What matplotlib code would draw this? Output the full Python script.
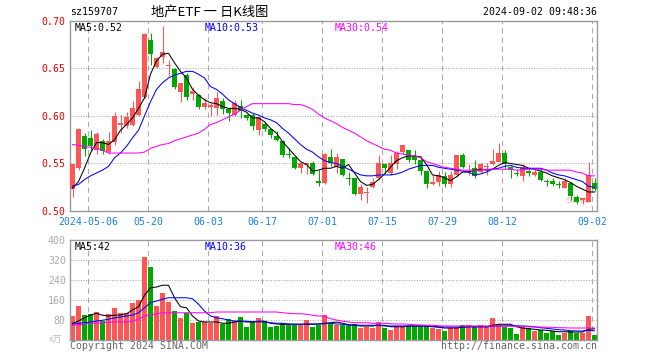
import numpy as np
import pandas as pd
import matplotlib
matplotlib.use("Agg")
import matplotlib.pyplot as plt

# trading days 2024-04-26 .. 2024-09-02 (holidays removed)
holidays = ["2024-05-01", "2024-05-02", "2024-05-03", "2024-06-10"]
days = [d for d in pd.bdate_range("2024-04-26", "2024-09-02") if d.strftime("%Y-%m-%d") not in holidays]
tick_days = ["2024-05-06", "2024-05-20", "2024-06-03", "2024-06-17", "2024-07-01",
             "2024-07-15", "2024-07-29", "2024-08-12", "2024-09-02"]
tick_labels = ["2024-05-06", "05-20", "06-03", "06-17", "07-01", "07-15", "07-29", "08-12", "09-02"]

opens = [.523, .545, .579, .577, .564, .574, .562, .573, .591, .590,
         .591, .601, .620, .680, .652, .662, .653, .650, .625, .643,
         .623, .622, .609, .610, .608, .616, .607, .601, .611, .601,
         .601, .585, .592, .586, .579, .574, .560, .557, .545, .548,
         .551, .532, .529, .557, .546, .555, .535, .535, .518, .519,
         .525, .535, .549, .540, .549, .562, .564, .558, .554, .542,
         .528, .531, .537, .528, .538, .559, .541, .545, .541, .546,
         .549, .552, .561, .546, .540, .537, .542, .538, .541, .531,
         .532, .528, .524, .530, .515, .512, .510, .529]
highs = [.549, .587, .582, .585, .583, .576, .583, .604, .601, .604,
         .616, .637, .687, .687, .662, .695, .659, .650, .635, .645,
         .631, .623, .619, .614, .625, .619, .608, .617, .617, .602,
         .603, .600, .594, .586, .584, .575, .566, .557, .552, .551,
         .553, .543, .561, .565, .561, .555, .541, .535, .528, .525,
         .535, .559, .551, .559, .563, .570, .564, .564, .558, .543,
         .538, .542, .541, .542, .559, .561, .549, .554, .551, .551,
         .565, .572, .564, .547, .544, .549, .544, .544, .544, .534,
         .535, .532, .535, .531, .517, .514, .552, .535]
lows = [.515, .543, .558, .563, .560, .560, .560, .570, .582, .587,
        .590, .600, .619, .654, .650, .656, .642, .628, .615, .617,
        .617, .607, .607, .600, .601, .602, .595, .600, .598, .596,
        .585, .580, .584, .577, .574, .557, .556, .544, .540, .539,
        .538, .526, .528, .547, .540, .537, .527, .517, .512, .508,
        .524, .533, .540, .538, .544, .560, .552, .549, .538, .524,
        .527, .526, .525, .525, .536, .545, .538, .535, .540, .538,
        .548, .552, .544, .535, .537, .532, .537, .537, .532, .526,
        .526, .524, .524, .512, .507, .507, .510, .521]
closes = [.549, .586, .565, .568, .581, .563, .574, .600, .593, .599,
          .608, .628, .686, .665, .661, .667, .654, .631, .635, .620,
          .626, .610, .614, .610, .619, .607, .603, .614, .605, .598,
          .589, .599, .586, .580, .575, .559, .559, .545, .551, .551,
          .539, .529, .560, .551, .557, .538, .534, .518, .525, .520,
          .531, .551, .545, .551, .561, .569, .554, .554, .542, .528,
          .531, .538, .528, .538, .559, .546, .541, .537, .550, .546,
          .553, .561, .549, .543, .539, .546, .540, .541, .533, .530,
          .528, .527, .532, .516, .510, .512, .538, .523]

ma5 = [.524, .531, .545, .561, .572, .572, .570, .575, .585, .591,
       .598, .608, .619, .644, .658, .665, .666, .656, .647, .640,
       .628, .622, .617, .614, .613, .610, .608, .608, .607, .604,
       .598, .598, .594, .587, .582, .573, .566, .559, .552, .549,
       .542, .543, .545, .545, .547, .545, .549, .540, .531, .527,
       .528, .533, .539, .546, .553, .556, .558, .558, .557, .549,
       .538, .537, .535, .532, .536, .541, .541, .543, .544, .543,
       .544, .548, .551, .550, .549, .548, .545, .544, .542, .540,
       .537, .535, .533, .530, .526, .523, .520, .520]
ma10 = [.526, .528, .533, .537, .540, .543, .547, .556, .561, .568,
        .577, .585, .600, .615, .628, .635, .640, .643, .645, .647,
        .647, .644, .640, .631, .628, .623, .617, .613, .609, .606,
        .603, .601, .598, .596, .593, .587, .582, .576, .570, .565,
        .562, .557, .553, .551, .550, .547, .544, .541, .538, .537,
        .537, .538, .538, .538, .539, .541, .544, .546, .548, .548,
        .548, .546, .545, .544, .543, .542, .541, .538, .539, .541,
        .544, .545, .547, .548, .546, .545, .545, .545, .545, .543,
        .540, .538, .537, .535, .533, .531, .526, .525]
ma30 = [.570, .569, .568, .567, .566, .564, .561, .561, .561, .561,
        .561, .561, .562, .566, .568, .570, .571, .574, .576, .578,
        .580, .582, .586, .591, .593, .596, .599, .602, .606, .610,
        .613, .613, .613, .613, .613, .613, .613, .612, .612, .610,
        .607, .602, .598, .595, .592, .588, .585, .582, .578, .574,
        .571, .568, .565, .564, .561, .560, .559, .558, .556, .552,
        .550, .548, .546, .545, .544, .543, .543, .543, .543, .544,
        .544, .544, .544, .544, .543, .543, .544, .544, .544, .543,
        .543, .543, .543, .543, .541, .540, .537, .537]

volume = [96, 136, 100, 105, 112, 76, 103, 128, 107, 109,
          149, 160, 332, 293, 136, 189, 152, 116, 89, 109,
          69, 73, 73, 69, 96, 65, 83, 76, 92, 52,
          76, 88, 76, 52, 56, 67, 59, 59, 59, 79,
          53, 59, 99, 63, 59, 60, 60, 63, 49, 52,
          49, 72, 49, 40, 56, 56, 56, 56, 56, 56,
          49, 43, 36, 49, 49, 59, 59, 53, 59, 53,
          88, 63, 53, 47, 24, 51, 48, 35, 40, 28,
          36, 21, 29, 37, 29, 29, 96, 19]
vol_ma5 = [67, 76, 89, 99, 107, 99, 96, 99, 100, 105,
           120, 133, 179, 209, 212, 219, 219, 169, 133, 129,
           96, 76, 72, 72, 72, 67, 67, 72, 75, 72,
           72, 75, 75, 67, 64, 63, 63, 63, 63, 63,
           63, 64, 67, 69, 72, 67, 61, 59, 56, 56,
           56, 59, 59, 53, 53, 53, 56, 56, 56, 56,
           53, 51, 48, 48, 48, 51, 53, 53, 53, 53,
           59, 63, 63, 63, 53, 48, 45, 43, 40, 39,
           36, 33, 33, 32, 32, 32, 43, 45]
vol_ma10 = [63, 67, 69, 72, 76, 79, 83, 88, 92, 96,
            100, 109, 129, 149, 156, 163, 169, 169, 169, 169,
            165, 143, 116, 96, 89, 85, 80, 76, 76, 75,
            73, 73, 72, 69, 67, 67, 64, 63, 63, 64,
            64, 64, 65, 67, 64, 63, 61, 60, 59, 59,
            59, 59, 56, 56, 56, 56, 56, 56, 56, 56,
            55, 53, 52, 52, 52, 52, 53, 53, 53, 53,
            55, 56, 57, 57, 57, 56, 55, 53, 49, 47,
            44, 41, 40, 37, 36, 36, 39, 37]
vol_ma30 = [59, 61, 64, 67, 67, 69, 71, 72, 72, 73,
            76, 83, 96, 101, 105, 109, 109, 109, 109, 109,
            109, 109, 109, 109, 112, 112, 112, 112, 112, 112,
            112, 112, 112, 112, 112, 109, 107, 105, 105, 103,
            99, 96, 96, 85, 80, 75, 72, 69, 69, 69,
            67, 67, 67, 65, 64, 64, 63, 61, 60, 59,
            59, 57, 56, 56, 56, 56, 56, 56, 56, 56,
            56, 56, 56, 55, 55, 53, 53, 52, 52, 51,
            51, 49, 49, 48, 48, 48, 48, 48]

RED = '#ff5555'
GREEN = '#00a800'
GRID = '#aaaaaa'
FRAME = '#999999'
MONO = 'DejaVu Sans Mono'
FS = 7.1
LW = 0.75

o = np.array(opens); h = np.array(highs); l = np.array(lows); c = np.array(closes)
x = np.arange(len(days))
xc = x + 5 / 12
colors = [RED if cc >= oo else GREEN for oo, cc in zip(o, c)]

W, H = 660, 360
fig = plt.figure(figsize=(W / 100, H / 100), dpi=100, facecolor='white')


def px_axes(left, top, right, bottom):
    return fig.add_axes([left / W, 1 - bottom / H, (right - left) / W, (bottom - top) / H])


ax = px_axes(70, 21, 597, 211)
axv = px_axes(70, 240, 597, 340)

day_str = [d.strftime("%Y-%m-%d") for d in days]
tick_pos = [day_str.index(t) for t in tick_days]

for a in (ax, axv):
    a.set_xlim(0, 527 / 6)
    for s in a.spines.values():
        s.set_edgecolor(FRAME)
        s.set_linewidth(1)
    for p in tick_pos:
        a.axvline(p, color=GRID, lw=LW, ls=(0, (5, 4)), zorder=0)
    a.tick_params(length=0, pad=3)

# price panel
ax.set_ylim(0.50, 0.70)
for v in (0.55, 0.60, 0.65):
    ax.axhline(v, color=GRID, lw=LW, ls=(0, (1, 1.5)), zorder=0)
ax.vlines(xc, l, h, colors=colors, lw=LW, zorder=2)
ax.bar(xc, np.maximum(np.abs(c - o), 0.0012), bottom=np.minimum(o, c), width=5 / 6,
       color=colors, lw=0, zorder=3)
ax.plot(xc, ma5, color='black', lw=LW, zorder=4)
ax.plot(xc, ma10, color='#0000ff', lw=LW, zorder=4)
ax.plot(xc, ma30, color='#ff00ff', lw=LW, zorder=4)
ax.set_yticks([0.50, 0.55, 0.60, 0.65, 0.70])
ax.set_yticklabels(['0.50', '0.55', '0.60', '0.65', '0.70'], color='#ee0000',
                   fontfamily=MONO, fontsize=FS)
ax.set_xticks(tick_pos)
ax.set_xticklabels(tick_labels, color='#1a80e0', fontfamily=MONO, fontsize=FS)
ax.tick_params(axis='x', pad=4)

ax.text(5 / 527, 0.965, 'MA5:0.52', transform=ax.transAxes, color='black',
        fontfamily=MONO, fontsize=FS, va='center')
ax.text(135 / 527, 0.965, 'MA10:0.53', transform=ax.transAxes, color='#0000ff',
        fontfamily=MONO, fontsize=FS, va='center')
ax.text(265 / 527, 0.965, 'MA30:0.54', transform=ax.transAxes, color='#ff00ff',
        fontfamily=MONO, fontsize=FS, va='center')
ax.text(0.965, 0.06, 'sina', transform=ax.transAxes, color='#e8c4c4', alpha=0.8,
        fontsize=8, fontweight='bold', ha='center', va='center', zorder=1)

# volume panel
axv.set_ylim(0, 400)
for v in (80, 160, 240, 320):
    axv.axhline(v, color=GRID, lw=LW, ls=(0, (1, 1.5)), zorder=0)
axv.bar(xc, volume, width=5 / 6, color=colors, lw=0, zorder=2)
axv.plot(xc, vol_ma5, color='black', lw=LW, zorder=3)
axv.plot(xc, vol_ma10, color='#0000ff', lw=LW, zorder=3)
axv.plot(xc, vol_ma30, color='#ff00ff', lw=LW, zorder=3)
axv.set_yticks([80, 160, 240, 320, 400])
axv.set_yticklabels(['80', '160', '240', '320', '400'], color='#aaaaaa',
                    fontfamily=MONO, fontsize=FS)
axv.set_xticks([])
axv.text(5 / 527, 0.93, 'MA5:42', transform=axv.transAxes, color='black',
         fontfamily=MONO, fontsize=FS, va='center')
axv.text(135 / 527, 0.93, 'MA10:36', transform=axv.transAxes, color='#0000ff',
         fontfamily=MONO, fontsize=FS, va='center')
axv.text(265 / 527, 0.93, 'MA30:46', transform=axv.transAxes, color='#ff00ff',
         fontfamily=MONO, fontsize=FS, va='center')

# header and footer texts
fig.text(70 / W, 1 - 12 / H, 'sz159707', fontfamily=MONO, fontsize=FS, va='center')
fig.text(210 / W, 1 - 12 / H, '地产ETF 一 日K线图', family=['Noto Sans CJK SC', 'DejaVu Sans'],
         fontsize=9.5, ha='center', va='center')
fig.text(597 / W, 1 - 12 / H, '2024-09-02 09:48:36', fontfamily=MONO, fontsize=FS,
         ha='right', va='center')
fig.text(70 / W, 1 - 346 / H, 'Copyright 2024 SINA.COM', fontfamily=MONO, fontsize=FS,
         color='#666666', va='center')
fig.text(597 / W, 1 - 346 / H, 'http://finance.sina.com.cn', fontfamily=MONO, fontsize=FS,
         color='#666666', ha='right', va='center')
fig.text(56 / W, 1 - 340 / H, 'x万', family=['Noto Sans CJK SC', 'DejaVu Sans'],
         fontsize=6.5, color='#bbbbbb', ha='center', va='center')

fig.savefig('out.png', dpi=100, facecolor='white')
